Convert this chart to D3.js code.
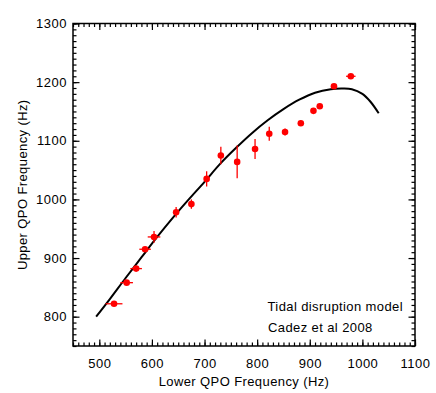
<!DOCTYPE html>
<html lang="en">
<head>
<meta charset="UTF-8">
<title>Tidal disruption model</title>
<script src="https://d3js.org/d3.v7.min.js"></script>
<style>
    body { margin: 0; background: #fff; }
    svg { display: block; }
    .tick text { font-family: "Liberation Sans", Arial, sans-serif; font-size: 13px; fill: #000; }
    .lbl { font-family: "Liberation Sans", Arial, sans-serif; font-size: 13px; fill: #000; letter-spacing: 0.4px; }
</style>
</head>
<body>
<div id="chart"></div>
<script>
    const width = 436;
    const height = 393;

    // QPO pairs (Hz)
    const lowerFreq = [528, 552, 570, 587, 604, 646, 675, 704, 731, 762, 796, 823, 853, 883, 907, 919, 946, 978];
    const upperFreq = [822, 858, 882, 915, 936, 978, 992, 1035, 1075, 1064, 1086, 1112, 1115, 1130, 1151, 1159, 1193, 1210];
    const lowerErr  = [16, 12, 11, 11, 12, 3, 3, 3, 3, 2, 3, 3, 3, 3, 3, 3, 3, 9];
    const upperErr  = [3, 3, 4, 4, 10, 9, 8, 13, 15, 28, 17, 12, 6, 4, 3, 4, 3, 2];

    // model curve (Cadez et al 2008)
    const modelLower = [494, 520, 550, 580, 610, 640, 670, 700, 730, 760, 790, 820, 850, 880, 910, 940, 960, 980, 1000, 1015, 1031];
    const modelUpper = [800, 830, 866, 901, 936, 969, 1000, 1030, 1061, 1088, 1113, 1135, 1154, 1170, 1182, 1188, 1189, 1188, 1180, 1167, 1147];

    const xTicks = [500, 600, 700, 800, 900, 1000, 1100];
    const yTicks = [800, 900, 1000, 1100, 1200, 1300];

    const margin = {top: 23.5, right: 21, bottom: 47, left: 73};
    const innerW = width - margin.left - margin.right;
    const innerH = height - margin.top - margin.bottom;

    const svg = d3.select("#chart").append("svg")
        .attr("width", width)
        .attr("height", height);

    const g = svg.append("g")
        .attr("transform", `translate(${margin.left},${margin.top})`);

    const x = d3.scaleLinear().domain([450, 1100]).range([0, innerW]);
    const y = d3.scaleLinear().domain([750, 1300]).range([innerH, 0]);

    const minorX = d3.range(450, 1101, 10);
    const minorY = d3.range(750, 1301, 10);

    function styleAxis(sel) {
        sel.select(".domain").remove();
        sel.selectAll(".tick line").attr("stroke", "#000").attr("stroke-width", 1.2);
    }

    // minor ticks, all four sides, pointing inward
    g.append("g").attr("transform", `translate(0,${innerH})`)
        .call(d3.axisBottom(x).tickValues(minorX).tickSize(-3.5).tickFormat("")).call(styleAxis);
    g.append("g")
        .call(d3.axisTop(x).tickValues(minorX).tickSize(-3.5).tickFormat("")).call(styleAxis);
    g.append("g")
        .call(d3.axisLeft(y).tickValues(minorY).tickSize(-3.5).tickFormat("")).call(styleAxis);
    g.append("g").attr("transform", `translate(${innerW},0)`)
        .call(d3.axisRight(y).tickValues(minorY).tickSize(-3.5).tickFormat("")).call(styleAxis);

    // major ticks
    g.append("g").attr("transform", `translate(0,${innerH})`)
        .call(d3.axisBottom(x).tickValues(xTicks).tickSize(-6.5).tickPadding(13).tickFormat(d3.format("d")))
        .call(styleAxis);
    g.append("g")
        .call(d3.axisTop(x).tickValues(xTicks).tickSize(-6.5).tickFormat("")).call(styleAxis);
    g.append("g")
        .call(d3.axisLeft(y).tickValues(yTicks).tickSize(-6.5).tickPadding(6).tickFormat(d3.format("d")))
        .call(styleAxis);
    g.append("g").attr("transform", `translate(${innerW},0)`)
        .call(d3.axisRight(y).tickValues(yTicks).tickSize(-6.5).tickFormat("")).call(styleAxis);

    g.selectAll(".tick text").attr("font-size", 13).attr("letter-spacing", "0.5px");

    // frame
    g.append("rect")
        .attr("width", innerW).attr("height", innerH)
        .attr("fill", "none").attr("stroke", "#000").attr("stroke-width", 1.5);

    // model line
    const line = d3.line()
        .x((d, i) => x(modelLower[i]))
        .y(d => y(d))
        .curve(d3.curveCatmullRom);
    g.append("path")
        .datum(modelUpper)
        .attr("d", line)
        .attr("fill", "none")
        .attr("stroke", "#000")
        .attr("stroke-width", 2);

    // error bars + points
    const pts = lowerFreq.map((d, i) => ({x: d, y: upperFreq[i], ex: lowerErr[i], ey: upperErr[i]}));
    const pg = g.append("g");
    pg.selectAll("line.ex").data(pts).join("line")
        .attr("class", "ex")
        .attr("x1", d => x(d.x - d.ex)).attr("x2", d => x(d.x + d.ex))
        .attr("y1", d => y(d.y)).attr("y2", d => y(d.y))
        .attr("stroke", "#ff0000").attr("stroke-width", 1.3);
    pg.selectAll("line.ey").data(pts).join("line")
        .attr("class", "ey")
        .attr("x1", d => x(d.x)).attr("x2", d => x(d.x))
        .attr("y1", d => y(d.y - d.ey)).attr("y2", d => y(d.y + d.ey))
        .attr("stroke", "#ff0000").attr("stroke-width", 1.3);
    pg.selectAll("circle").data(pts).join("circle")
        .attr("cx", d => x(d.x)).attr("cy", d => y(d.y))
        .attr("r", 3.3)
        .attr("fill", "#ff0000");

    // annotation
    svg.append("text").attr("class", "lbl")
        .attr("x", 403).attr("y", 311)
        .attr("text-anchor", "end")
        .text("Tidal disruption model");
    svg.append("text").attr("class", "lbl")
        .attr("x", 268).attr("y", 332)
        .text("Cadez et al 2008");

    // axis titles
    svg.append("text").attr("class", "lbl")
        .attr("x", margin.left + innerW / 2).attr("y", 386)
        .attr("text-anchor", "middle")
        .text("Lower QPO Frequency (Hz)");
    svg.append("text").attr("class", "lbl")
        .attr("transform", `translate(27,${margin.top + innerH / 2}) rotate(-90)`)
        .attr("text-anchor", "middle")
        .text("Upper QPO Frequency (Hz)");
</script>
</body>
</html>
